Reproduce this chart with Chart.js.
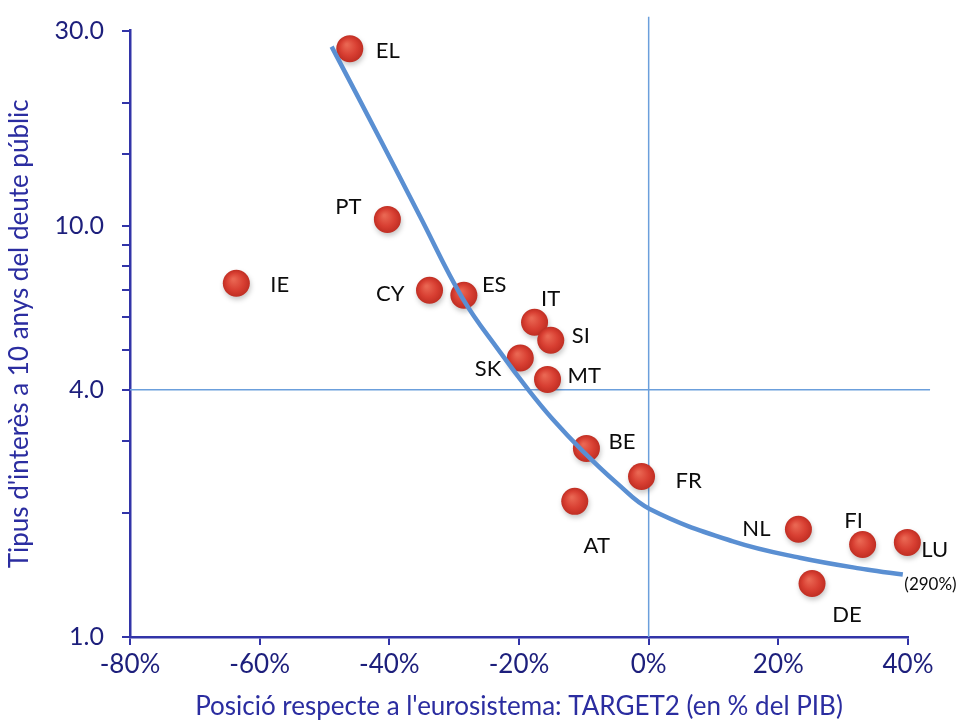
<!DOCTYPE html>
<html>
<head>
<meta charset="utf-8">
<script src="https://cdn.jsdelivr.net/npm/chart.js@4.4.1/dist/chart.umd.min.js"></script>
<style>
	html, body { margin: 0; padding: 0; background: #ffffff; }
	#wrap { width: 972px; height: 722px; position: relative; }
</style>
</head>
<body>
<div id="wrap"><canvas id="chart"></canvas></div>
<script>

// Country codes
const countries = ['EL', 'PT', 'IE', 'CY', 'ES', 'IT', 'SI', 'SK', 'MT', 'BE', 'FR', 'AT', 'NL', 'FI', 'LU', 'DE'];

// TARGET2 position, % of GDP
const target2 = [-46.1, -40.3, -63.6, -33.8, -28.5, -17.6, -15.1, -19.8, -15.6, -9.6, -1.1, -11.4, 23.1, 33.0, 39.9, 25.2];

// 10-year public debt yield, %
const yields = [27.1, 10.4, 7.27, 6.99, 6.80, 5.84, 5.28, 4.78, 4.24, 2.88, 2.46, 2.14, 1.83, 1.68, 1.70, 1.35];

// Fitted curve
const fitX = [-48.9, -41.5, -35.3, -28.7, -23.0, -18.4, -14.8, -10.2, -4.9, 0.15, 13.0, 23.3, 33.6, 39.2];
const fitY = [27.4, 16.4, 10.6, 6.68, 4.96, 3.97, 3.39, 2.84, 2.37, 2.05, 1.71, 1.56, 1.46, 1.42];

// Reference cross lines (x = 0%, y = 4.0) and where they end
const crossX = [0, 0];
const crossXy = [1, 32.4];
const crossY = [4, 4];
const crossYx = [-80, 43.4];

// Labelled y ticks
const yTickLabels = [1, 4, 10, 30];

// Extra note next to a country
const notes = { LU: '(290%)' };

// Label placement relative to the point: [dx, dy, align]
const labelOffsets = {
	EL: [26, 2, 'left'],
	PT: [-26, -13, 'right'],
	IE: [34, 2, 'left'],
	CY: [-25, 4, 'right'],
	ES: [18, -10, 'left'],
	IT: [16, -23, 'center'],
	SI: [21, -4, 'left'],
	SK: [-19, 11, 'right'],
	MT: [20, -3, 'left'],
	BE: [22, -6, 'left'],
	FR: [34, 4, 'left'],
	AT: [22, 45, 'center'],
	NL: [-28, 0, 'right'],
	FI: [-9, -24, 'center'],
	LU: [14, 8, 'left'],
	DE: [35, 31, 'center']
};

const fontFamily = 'Lato, "Open Sans", sans-serif';
const navy = '#1d1f7c';
const axisBlue = '#3234a8';

// Build the datasets
const countryPoints = countries.map((c, i) => ({ x: target2[i], y: yields[i], code: c }));
const fitPoints = fitX.map((x, i) => ({ x: x, y: fitY[i] }));
const crossVertical = crossX.map((x, i) => ({ x: x, y: crossXy[i] }));
const crossHorizontal = crossYx.map((x, i) => ({ x: x, y: crossY[i] }));

// Shaded red ball fill for each point
function ballFill (context)
{
	const chart = context.chart;
	if (!context.raw || !chart.scales || !chart.scales.x || !chart.scales.y) {return '#d63d30';}
	const px = chart.scales.x.getPixelForValue(context.raw.x);
	const py = chart.scales.y.getPixelForValue(context.raw.y);
	if (!isFinite(px) || !isFinite(py)) {return '#d63d30';}
	const g = chart.ctx.createRadialGradient(px - 3, py - 4, 1, px, py, 13.5);
	g.addColorStop(0, '#e96652');
	g.addColorStop(0.6, '#d83f32');
	g.addColorStop(1, '#c02e23');
	return g;
}

// Shadow under the balls
const ballShadow = {
	id: 'ballShadow',
	beforeDatasetDraw (chart, args) {
		if (args.index !== 3) {return;}
		const ctx = chart.ctx;
		ctx.save();
		ctx.shadowColor = 'rgba(0, 0, 0, 0.22)';
		ctx.shadowBlur = 5;
		ctx.shadowOffsetX = 1;
		ctx.shadowOffsetY = 3;
	},
	afterDatasetDraw (chart, args) {
		if (args.index !== 3) {return;}
		chart.ctx.restore();
	}
};

// Country labels beside the balls
const countryLabels = {
	id: 'countryLabels',
	afterDatasetsDraw (chart) {
		const ctx = chart.ctx;
		const meta = chart.getDatasetMeta(3);
		ctx.save();
		ctx.fillStyle = '#0c0c0c';
		ctx.textBaseline = 'middle';
		meta.data.forEach((pt, i) => {
			const code = countries[i];
			const off = labelOffsets[code];
			ctx.font = '22px ' + fontFamily;
			ctx.textAlign = off[2];
			ctx.fillText(code, pt.x + off[0], pt.y + off[1]);
			if (notes[code]) {
				ctx.font = '17px ' + fontFamily;
				ctx.textAlign = 'left';
				ctx.fillText(notes[code], pt.x - 3, pt.y + 42);
			}
		});
		ctx.restore();
	}
};

new Chart(document.getElementById('chart').getContext('2d'), {
	type: 'line',
	data: {
		datasets: [
			{
				data: crossVertical,
				borderColor: '#6b9fdc',
				borderWidth: 1.5,
				pointRadius: 0,
				clip: false,
				order: 3
			},
			{
				data: crossHorizontal,
				borderColor: '#6b9fdc',
				borderWidth: 1.5,
				pointRadius: 0,
				clip: false,
				order: 3
			},
			{
				data: fitPoints,
				borderColor: '#5a8fd2',
				borderWidth: 4.5,
				pointRadius: 0,
				tension: 0.4,
				clip: false,
				order: 0
			},
			{
				type: 'scatter',
				data: countryPoints,
				backgroundColor: ballFill,
				borderWidth: 0,
				pointRadius: 13.5,
				pointHoverRadius: 13.5,
				clip: false,
				order: 1
			}
		]
	},
	options: {
		responsive: true,
		maintainAspectRatio: false,
		animation: false,
		events: [],
		layout: {
			padding: { top: 29, right: 64, left: 0, bottom: 0 }
		},
		plugins: {
			legend: { display: false },
			tooltip: { enabled: false }
		},
		scales: {
			x: {
				type: 'linear',
				min: -80,
				max: 40,
				afterFit: (scale) => { scale.height = 85; },
				border: { color: axisBlue, width: 2.5 },
				grid: { drawOnChartArea: false, drawTicks: true, tickLength: 8, color: axisBlue, lineWidth: 2 },
				ticks: {
					stepSize: 20,
					padding: 4,
					color: navy,
					font: { family: fontFamily, size: 26 },
					callback: (v) => v + '%'
				},
				title: {
					display: true,
					text: "Posició respecte a l'eurosistema: TARGET2 (en % del PIB)",
					color: '#2b2da0',
					font: { family: fontFamily, size: 26 },
					padding: { top: 0, bottom: 0 }
				}
			},
			y: {
				type: 'logarithmic',
				min: 1,
				max: 30,
				afterFit: (scale) => { scale.width = 130; },
				border: { color: axisBlue, width: 2.5 },
				grid: { drawOnChartArea: false, drawTicks: true, tickLength: 8, color: axisBlue, lineWidth: 2 },
				ticks: {
					autoSkip: false,
					padding: 18,
					color: navy,
					font: { family: fontFamily, size: 25, lineHeight: 1 },
					callback: (v) => yTickLabels.includes(v) ? v.toFixed(1) : ''
				},
				title: {
					display: true,
					text: "Tipus d'interès a 10 anys del deute públic",
					color: '#2b2da0',
					font: { family: fontFamily, size: 26 },
					padding: { top: 4, bottom: 0 }
				}
			}
		}
	},
	plugins: [ballShadow, countryLabels]
});
</script>
</body>
</html>
